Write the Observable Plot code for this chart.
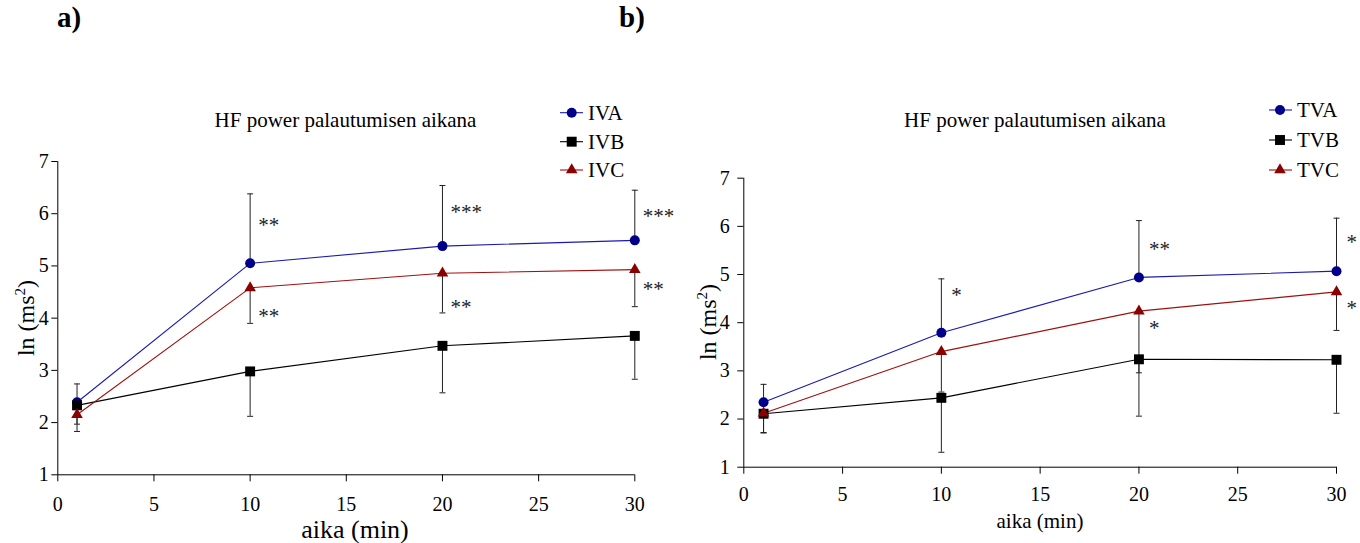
<!DOCTYPE html>
<html>
<head>
<meta charset="utf-8">
<script src="https://cdn.jsdelivr.net/npm/d3@7"></script>
<script src="https://cdn.jsdelivr.net/npm/@observablehq/plot@0.6"></script>
<style>
  html, body { margin: 0; padding: 0; background: #fff; }
  #wrap { position: relative; width: 1360px; height: 543px; overflow: hidden; }
  #wrap, #wrap svg, #wrap text { font-family: 'Liberation Serif', 'Times New Roman', Times, 'DejaVu Serif', serif !important; }
  #wrap > .panel { position: absolute; top: 0; }
  #overlay { position: absolute; left: 0; top: 0; pointer-events: none; }
</style>
</head>
<body>
<div id="wrap"></div>
<script>
// ---------- data ----------
const times = [1, 10, 20, 30];
const xTicks = [0, 5, 10, 15, 20, 25, 30];
const yTicks = [1, 2, 3, 4, 5, 6, 7];

const seriesA = ["IVA", "IVB", "IVC"];
const seriesB = ["TVA", "TVB", "TVC"];

// panel a
const ivaMean = [2.39, 5.05, 5.38, 5.49];
const ivaSd   = [0.35, 1.33, 1.16, 0.96];
const ivbMean = [2.33, 2.98, 3.47, 3.66];
const ivbSd   = [0.50, 0.86, 0.90, 0.83];
const ivcMean = [2.15, 4.58, 4.86, 4.93];
const ivcSd   = [0.18, 0.68, 0.76, 0.71];

// panel b
const tvaMean = [2.35, 3.79, 4.94, 5.07];
const tvaSd   = [0.37, 1.12, 1.18, 1.10];
const tvbMean = [2.11, 2.44, 3.24, 3.23];
const tvbSd   = [0.40, 1.13, 1.18, 1.11];
const tvcMean = [2.12, 3.40, 4.24, 4.64];
const tvcSd   = [0.40, 0.84, 1.28, 0.80];

// error bar direction: +1 upward, -1 downward
const errDir = [1, -1, -1];

// significance marks: time, value level, label
const sigTimeA  = [10, 10, 20, 20, 30, 30];
const sigLevelA = [5.87, 4.13, 6.12, 4.30, 6.04, 4.65];
const sigTextA  = ["**", "**", "***", "**", "***", "**"];
const sigTimeB  = [10, 20, 20, 30, 30];
const sigLevelB = [4.67, 5.62, 3.98, 5.77, 4.40];
const sigTextB  = ["*", "**", "*", "*", "*"];

const titleText = "HF power palautumisen aikana";
const xLabel = "aika (min)";
const panelLetters = ["a)", "b)"];

const seriesColors = ["#00008b", "#000000", "#8b0000"];
const lineColors = ["#1a1ab0", "#000000", "#a01010"];
const seriesSymbols = ["circle", "square", "triangle"];
const symbolR = { circle: 5, square: 5.6, triangle: 4.3 };

const FONT = "'Liberation Serif', 'Times New Roman', Times, 'DejaVu Serif', serif";

// ---------- build tables ----------
function buildRows(names, means, sds) {
  const rows = [];
  names.forEach((name, i) => {
    times.forEach((t, j) => {
      rows.push({ series: name, idx: i, t, mean: means[i][j], sd: sds[i][j], dir: errDir[i] });
    });
  });
  return rows;
}
const rowsA = buildRows(seriesA, [ivaMean, ivbMean, ivcMean], [ivaSd, ivbSd, ivcSd]);
const rowsB = buildRows(seriesB, [tvaMean, tvbMean, tvcMean], [tvaSd, tvbSd, tvcSd]);
const sigA = sigTimeA.map((t, i) => ({ t, v: sigLevelA[i], label: sigTextA[i] }));
const sigB = sigTimeB.map((t, i) => ({ t, v: sigLevelB[i], label: sigTextB[i] }));

const capSymbol = {
  draw(context, size) {
    const w = Math.sqrt(size / Math.PI);
    context.moveTo(-w, 0);
    context.lineTo(w, 0);
  }
};

function panel(rows, names, sig, cfg) {
  const end = d => d.mean + d.dir * d.sd;
  const marks = [
    Plot.ruleY([1], { stroke: "#000", strokeWidth: 1 }),
    Plot.ruleX([0], { stroke: "#000", strokeWidth: 1 }),
    Plot.axisX({ ticks: xTicks, tickSize: 7, tickPadding: cfg.xPad, fontSize: 20, label: null, tickFormat: d => String(d) }),
    Plot.axisY({ ticks: yTicks, tickSize: 6, tickPadding: cfg.yPad, fontSize: 20, label: null, tickFormat: d => String(d) }),
    Plot.ruleX(rows, { x: "t", y1: "mean", y2: end, stroke: "#222", strokeWidth: 1 }),
    Plot.dot(rows, { x: "t", y: end, symbol: capSymbol, r: 3, stroke: "#222", strokeWidth: 1, fill: "none" }),
    Plot.line(rows, { x: "t", y: "mean", z: "series", stroke: d => lineColors[d.idx], strokeWidth: 1.1 }),
  ];
  seriesSymbols.forEach((sym, i) => {
    marks.push(Plot.dot(rows.filter(d => d.idx === i), {
      x: "t", y: "mean", symbol: sym, r: symbolR[sym], fill: seriesColors[i], stroke: "none"
    }));
  });
  marks.push(Plot.text(sig, {
    x: "t", y: "v", text: "label", textAnchor: "start", dx: cfg.sigDx, dy: 5,
    fontSize: 21, fill: "#222"
  }));
  const chart = Plot.plot({
    width: 680,
    height: 543,
    marginLeft: cfg.ml, marginRight: cfg.mr, marginTop: cfg.mt, marginBottom: cfg.mb,
    x: { domain: [0, 30] },
    y: { domain: [1, 7] },
    color: { type: "identity" },
    style: { fontFamily: FONT, color: "#000", background: "transparent", overflow: "visible" },
    marks
  });
  chart.classList.add("panel");
  chart.style.left = cfg.left + "px";
  return chart;
}

const wrap = document.getElementById("wrap");
wrap.appendChild(panel(rowsA, seriesA, sigA, { left: 0, ml: 57.3, mr: 45.7, mt: 161, mb: 68.7, xPad: 15, yPad: 3, sigDx: 8 }));
wrap.appendChild(panel(rowsB, seriesB, sigB, { left: 680, ml: 63.3, mr: 24, mt: 177.7, mb: 76.3, xPad: 13, yPad: 8, sigDx: 10 }));

// ---------- overlay: titles, legends, axis labels ----------
const svg = d3.select(wrap).append("svg").attr("id", "overlay").attr("width", 1360).attr("height", 543)
  .style("font-family", FONT);

const letterX = [57, 619];
panelLetters.forEach((t, i) => {
  svg.append("text").attr("x", letterX[i]).attr("y", 27).attr("font-size", 29).attr("font-weight", "bold").text(t);
});

const titleX = [345.5, 1035];
titleX.forEach(x => {
  svg.append("text").attr("x", x).attr("y", 127).attr("text-anchor", "middle").attr("font-size", 21).text(titleText);
});

const xLabelPos = [[355, 538, 26], [1040, 528, 21]];
xLabelPos.forEach(([x, y, fs]) => {
  svg.append("text").attr("x", x).attr("y", y).attr("text-anchor", "middle").attr("font-size", fs).text(xLabel);
});

const yLabelPos = [[34, 318], [716, 322]];
yLabelPos.forEach(([x, y]) => {
  const t = svg.append("text").attr("transform", `translate(${x},${y}) rotate(-90)`).attr("text-anchor", "middle").attr("font-size", 24);
  t.append("tspan").text("ln (ms");
  t.append("tspan").attr("dy", -9).attr("font-size", 15).text("2");
  t.append("tspan").attr("dy", 9).text(")");
});

function legend(names, x0, x1, xm, xt, ys) {
  names.forEach((name, i) => {
    const y = ys[i];
    svg.append("line").attr("x1", x0).attr("x2", x1).attr("y1", y).attr("y2", y).attr("stroke", lineColors[i]).attr("stroke-width", 1.1);
    const sym = seriesSymbols[i];
    const type = { circle: d3.symbolCircle, square: d3.symbolSquare, triangle: d3.symbolTriangle }[sym];
    svg.append("path").attr("d", d3.symbol(type, Math.PI * symbolR[sym] ** 2)()).attr("transform", `translate(${xm},${y})`).attr("fill", seriesColors[i]);
    svg.append("text").attr("x", xt).attr("y", y).attr("dy", "0.35em").attr("font-size", 21).text(name);
  });
}
legend(seriesA, 560, 583, 571.7, 588, [112.7, 141.7, 170]);
legend(seriesB, 1269, 1292, 1280, 1297, [110, 140, 170]);
</script>
</body>
</html>
